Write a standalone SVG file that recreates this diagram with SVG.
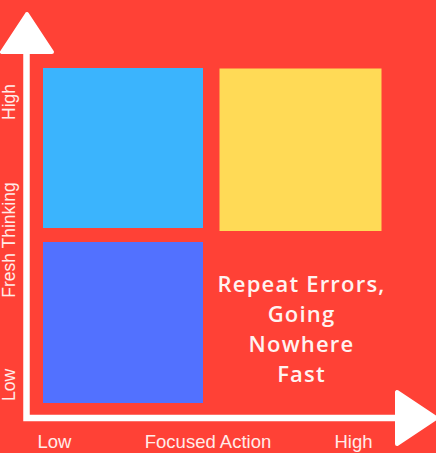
<svg xmlns="http://www.w3.org/2000/svg" width="436" height="453" viewBox="0 0 436 453">
<style>
.axis-label{font-family:"Liberation Sans",Arial,sans-serif;font-size:17.5px;fill:#FFECE9}
.x-label{font-size:18.5px}
.quad-text{font-family:"Open Sans","Noto Sans",sans-serif;font-size:22px;font-weight:600;letter-spacing:1.2px;fill:#FFF3F1;text-anchor:middle}
.axis-line{stroke:#FFFFFF;stroke-width:6.5;fill:none}
.axis-head{fill:#FFFFFF;stroke:#FFFFFF;stroke-width:4;stroke-linejoin:round}
</style>
<rect x="0" y="0" width="436" height="453" fill="#FF4136"/>
<g id="quad-top-left"><rect x="43" y="68" width="160" height="160" fill="#3BB4FD"/></g>
<g id="quad-top-right"><rect x="219.5" y="68.5" width="162" height="162.5" fill="#FFDA56"/></g>
<g id="quad-bottom-left"><rect x="43" y="242" width="160" height="161" fill="#5271FF"/></g>
<g id="quad-bottom-right">
<text class="quad-text" x="301.5" y="292">Repeat Errors,</text>
<text class="quad-text" x="301.5" y="322">Going</text>
<text class="quad-text" x="301.5" y="352">Nowhere</text>
<text class="quad-text" x="301.5" y="382">Fast</text>
</g>
<g id="connectors">
<polyline class="axis-line" points="26.5,50 26.5,418 400,418"/>
<polygon class="axis-head" points="27,14 2,52 52,52"/>
<polygon class="axis-head" points="397,392 397,444 436,418"/>
</g>
<g id="y-labels">
<text class="axis-label" transform="translate(15,102) rotate(-90)" text-anchor="middle">High</text>
<text class="axis-label" transform="translate(15,240) rotate(-90)" text-anchor="middle">Fresh Thinking</text>
<text class="axis-label" transform="translate(15,385) rotate(-90)" text-anchor="middle">Low</text>
</g>
<g id="x-labels">
<text class="axis-label x-label" x="54.5" y="448" text-anchor="middle">Low</text>
<text class="axis-label x-label" x="208" y="448" text-anchor="middle">Focused Action</text>
<text class="axis-label x-label" x="353.5" y="448" text-anchor="middle">High</text>
</g>
</svg>
